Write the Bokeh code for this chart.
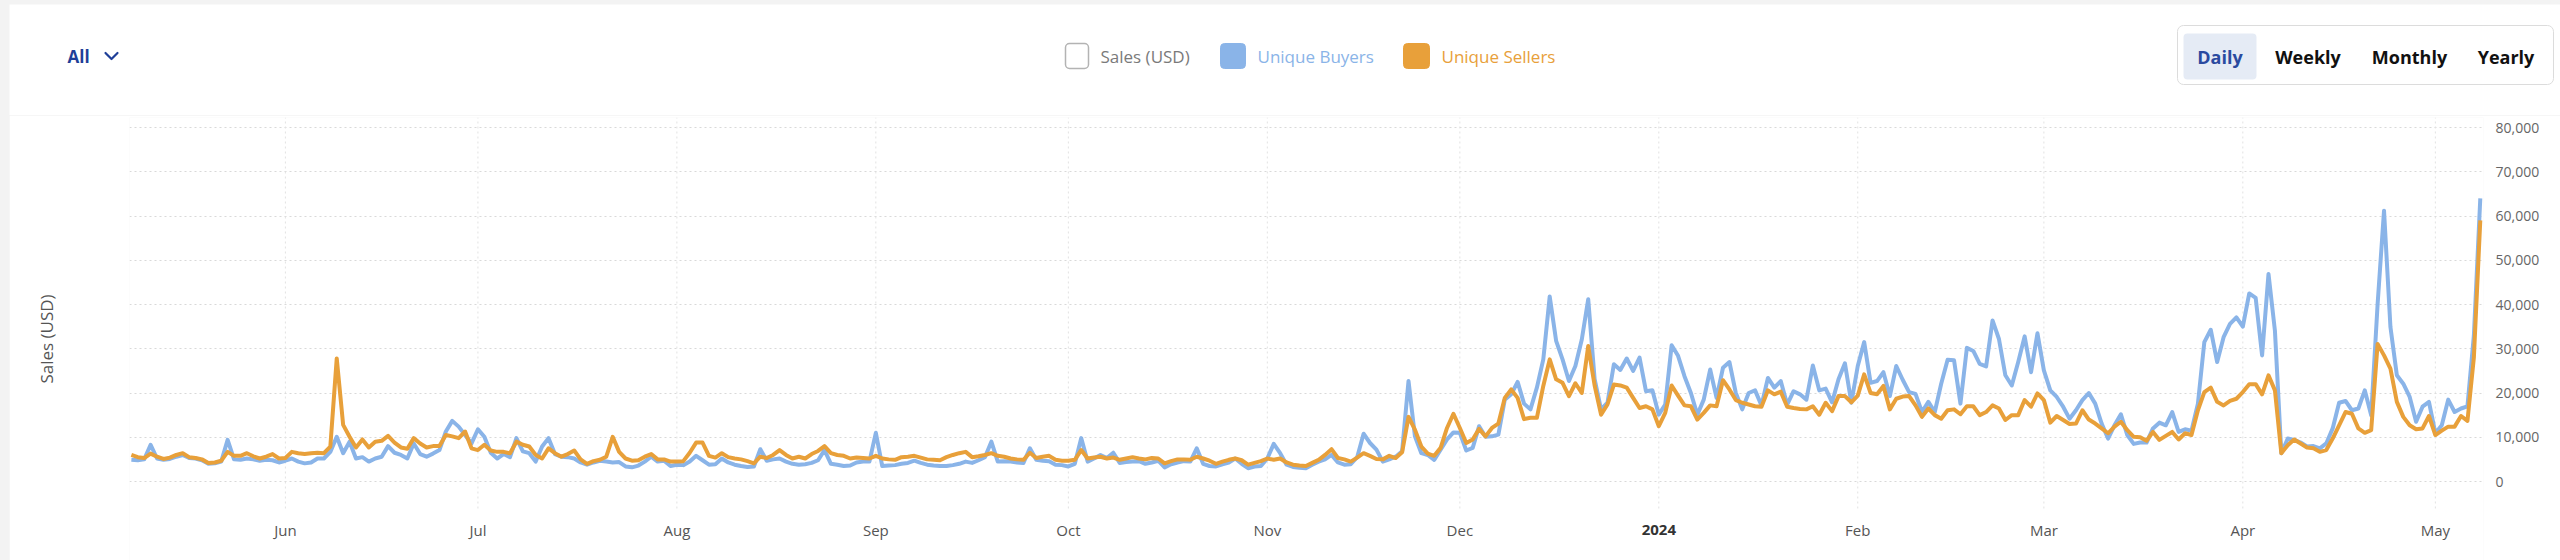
import pandas as pd
from bokeh.plotting import figure
from bokeh.models import (Range1d, LinearAxis, FixedTicker, NumeralTickFormatter,
                          Grid, ColumnDataSource)
from bokeh.layouts import column
from bokeh.embed import file_html
from bokeh.resources import INLINE
from bokeh.core.properties import value

# ---------------- data (daily, starting 2023-05-08) ----------------
START = "2023-05-08"

buyers_may23 = [4900, 4800, 5000, 8300, 5200, 4900, 5100, 5600, 6000, 5300, 5200, 4800,
                4000, 4100, 4500, 9400, 5000, 4900, 5200, 5000, 4700, 4900, 4800, 4300]
buyers_jun23 = [4700, 5200, 4500, 4100, 4300, 5200, 5200, 6700, 10100, 6400, 9000, 5200,
                5500, 4500, 5200, 5600, 8000, 6500, 6000, 5200, 8600, 6200, 5600, 6300,
                7100, 11300, 13700, 12400, 10500, 8600]
buyers_jul23 = [11800, 10100, 6500, 5200, 6200, 5500, 9800, 6800, 6400, 4500, 7900, 9800,
                6200, 5600, 5500, 5200, 4300, 3800, 4300, 4700, 4500, 4300, 4400, 3400,
                3200, 3600, 4500, 5600, 4500, 4700, 3500]
buyers_aug23 = [3800, 3700, 4500, 5800, 4800, 3800, 3900, 5200, 4300, 3800, 3500, 3300,
                3400, 7300, 4700, 5000, 5200, 4500, 4000, 3800, 3900, 4200, 4800, 7100,
                4000, 3800, 3500, 3600, 4300, 4500, 4500]
buyers_sep23 = [11000, 3500, 3600, 3700, 4000, 4200, 4700, 4200, 3800, 3600, 3500, 3500,
                3700, 4000, 4500, 4200, 4800, 5500, 9000, 4500, 4600, 4500, 4300, 4200,
                7500, 4900, 4700, 4600, 3800, 3700]
buyers_oct23 = [3400, 4000, 9800, 4500, 5200, 6000, 5300, 6500, 4200, 4400, 4500, 4600,
                4000, 4300, 4700, 3200, 3900, 4300, 4600, 4500, 7500, 4000, 3500, 3400,
                3900, 4300, 5200, 4000, 3000, 3400, 3500]
buyers_nov23 = [5200, 8500, 6400, 3800, 3300, 3100, 3000, 3800, 4500, 5000, 6000, 4300,
                3800, 3900, 5500, 10800, 8700, 7200, 4500, 5000, 5600, 6800, 22700, 10200,
                6400, 6000, 4900, 7200, 9500, 11100]
buyers_dec23 = [11000, 7000, 7600, 12500, 10100, 10200, 10600, 18500, 19700, 22500, 17600,
                16300, 21200, 27600, 41800, 31800, 27600, 22700, 26100, 32100, 41200, 23100,
                16300, 17800, 26500, 25200, 27800, 25000, 28000, 20400, 20600]
buyers_jan24 = [15100, 17400, 30800, 28400, 23800, 20000, 15100, 18500, 25300, 18900, 25700,
                27000, 20000, 16300, 20000, 20600, 17200, 23400, 21200, 22700, 17400, 20400,
                19700, 18500, 26200, 20600, 21000, 17900, 23100, 26700, 17800]
buyers_feb24 = [26100, 31500, 22300, 22700, 24700, 19300, 26100, 23000, 20200, 19800, 15700,
                18000, 15700, 22100, 27500, 27400, 17600, 30200, 29500, 26600, 26000, 36400,
                32200, 24000, 21700, 27000, 32800, 24700, 33500]
buyers_mar24 = [25100, 20600, 19100, 16900, 14200, 16100, 18400, 20000, 17600, 13100, 9700,
                12700, 15200, 10500, 8500, 8800, 8800, 12000, 13300, 12700, 15700, 11200,
                11800, 11500, 17600, 31500, 34300, 27000, 32600, 35600, 37100]
buyers_apr24 = [35000, 42500, 41500, 28500, 46900, 34100, 6400, 9700, 9400, 8800, 7900, 8000,
                7500, 8600, 12000, 17800, 18200, 16100, 16500, 20600, 15000, 40100, 61200,
                34900, 24000, 22100, 19100, 13500, 16900, 18000]
buyers_may24 = [10900, 12700, 18500, 15700, 16500, 17000, 33000, 64000]

sellers_may23 = [6000, 5500, 5300, 6300, 5600, 5100, 5400, 6000, 6400, 5500, 5300, 5000,
                 4200, 4300, 4700, 6700, 5800, 5800, 6400, 5700, 5200, 5600, 6200, 5200]
sellers_jun23 = [5300, 6700, 6400, 6200, 6400, 6500, 6400, 7900, 27800, 12800, 10100, 7700,
                 9500, 7700, 9000, 9200, 10300, 8800, 7700, 7400, 9800, 8600, 7700, 8000,
                 8000, 10500, 10200, 9800, 11300, 7500]
sellers_jul23 = [7100, 8300, 7000, 6700, 6700, 6400, 9000, 8300, 7900, 6000, 5200, 7500,
                 6400, 5600, 6200, 7000, 5000, 4000, 4600, 4900, 5600, 10100, 6700, 5200,
                 4700, 4800, 5600, 6200, 5000, 5000, 4500]
sellers_aug23 = [4500, 4600, 6500, 8800, 8800, 5800, 5400, 6400, 5500, 5200, 5000, 4600,
                 4100, 5600, 5300, 6000, 7100, 6000, 5200, 5600, 5200, 6200, 6900, 8000,
                 6400, 6000, 5800, 5200, 5400, 5300, 5200]
sellers_sep23 = [5800, 5200, 5000, 4900, 5500, 5600, 5800, 5400, 5000, 4900, 4800, 5500,
                 6000, 6400, 6700, 5500, 5700, 6000, 6400, 5800, 5600, 5200, 5000, 4900,
                 6500, 5300, 5600, 5800, 4900, 4700]
sellers_oct23 = [4700, 4900, 7100, 5200, 5400, 5600, 5200, 5400, 4900, 5200, 5500, 5200,
                 5000, 5300, 5200, 4100, 4600, 5000, 5000, 4900, 5600, 5200, 4700, 4000,
                 4500, 4900, 5200, 4800, 3800, 4200, 4600]
sellers_nov23 = [5200, 4900, 5200, 4300, 3800, 3600, 3500, 4200, 4900, 6000, 7300, 5300,
                 5000, 4500, 5400, 6400, 5800, 5100, 5000, 5800, 5300, 6600, 14600, 11700,
                 7900, 6300, 5800, 7600, 12100, 15300]
sellers_dec23 = [12100, 8700, 9500, 11900, 10200, 12100, 13100, 18900, 20800, 18900, 14100,
                 14400, 14400, 21600, 27600, 23100, 22300, 19300, 22200, 20000, 30600, 21700,
                 15100, 17400, 21900, 21700, 21200, 18900, 16600, 17000, 16300]
sellers_jan24 = [12500, 15500, 21700, 19400, 17200, 17000, 14000, 15500, 17200, 17000, 22900,
                 20800, 18400, 17800, 17400, 17000, 16900, 20600, 19700, 20300, 16900, 16600,
                 16400, 16300, 17000, 15100, 17800, 15900, 19300, 19300, 17900]
sellers_feb24 = [19400, 24200, 20000, 19700, 21600, 16300, 18700, 19200, 19300, 17200, 14600,
                 16500, 15000, 14200, 16100, 16300, 15200, 17000, 17000, 15000, 15700, 17200,
                 16500, 13900, 15000, 15000, 18400, 16900, 19900]
sellers_mar24 = [18400, 13300, 14800, 13900, 13000, 13100, 16100, 14000, 13100, 12000, 10900,
                 12400, 13500, 11600, 10100, 10000, 9200, 11200, 9400, 10300, 11200, 9500,
                 10900, 10500, 16100, 20200, 21200, 18000, 17200, 18200, 18700]
sellers_apr24 = [20200, 22000, 22000, 19700, 24000, 20600, 6400, 8200, 9500, 8600, 7700, 7500,
                 6700, 7100, 9700, 12700, 15700, 15300, 12000, 11000, 11600, 31100, 28500,
                 25500, 18000, 14600, 12700, 11800, 12000, 14800]
sellers_may24 = [10500, 11500, 12400, 12400, 14800, 13700, 28000, 59000]

buyers = (buyers_may23 + buyers_jun23 + buyers_jul23 + buyers_aug23 + buyers_sep23 +
          buyers_oct23 + buyers_nov23 + buyers_dec23 + buyers_jan24 + buyers_feb24 +
          buyers_mar24 + buyers_apr24 + buyers_may24)
sellers = (sellers_may23 + sellers_jun23 + sellers_jul23 + sellers_aug23 + sellers_sep23 +
           sellers_oct23 + sellers_nov23 + sellers_dec23 + sellers_jan24 + sellers_feb24 +
           sellers_mar24 + sellers_apr24 + sellers_may24)

month_ticks = ["2023-06-01", "2023-07-01", "2023-08-01", "2023-09-01", "2023-10-01",
               "2023-11-01", "2023-12-01", "2024-01-01", "2024-02-01", "2024-03-01",
               "2024-04-01", "2024-05-01"]
month_labels = ["Jun", "Jul", "Aug", "Sep", "Oct", "Nov", "Dec", "2024", "Feb", "Mar",
                "Apr", "May"]
y_ticks = [0, 10000, 20000, 30000, 40000, 50000, 60000, 70000, 80000]

series_names = ["Sales (USD)", "Unique Buyers", "Unique Sellers"]
periods = ["Daily", "Weekly", "Monthly", "Yearly"]

# ---------------- styling ----------------
FONT_NAME = "Open Sans"
FONT = value(FONT_NAME)
BLUE = "#8ab4e8"
ORANGE = "#e8a03a"
Y_BOTTOM, Y_TOP = -17853, 82260
GRID_LOW = -6100
LABEL_Y = -10850

dates = pd.date_range(START, periods=len(buyers), freq="D")
mt = pd.to_datetime(month_ticks)
src = ColumnDataSource(dict(date=dates, buyers=buyers, sellers=sellers))

x_start = pd.Timestamp(START) - pd.Timedelta(hours=7)
x_end = pd.Timestamp(START) + pd.Timedelta(hours=int(366.5 * 24))

# ---------------- chart ----------------
p = figure(width=2551, height=445, x_axis_type="datetime",
           x_range=Range1d(x_start, x_end), y_range=Range1d(Y_BOTTOM, Y_TOP),
           x_axis_location=None, y_axis_location=None,
           output_backend="svg", toolbar_location=None,
           min_border_left=120, min_border_right=77, min_border_top=2, min_border_bottom=0,
           outline_line_color=None, background_fill_color="white",
           border_fill_color="white", margin=(0, 0, 0, 9), frame_align=False)
p.grid.visible = False

hgrid = Grid(dimension=1, ticker=FixedTicker(ticks=y_ticks), grid_line_color="#d9d9d9",
             grid_line_dash="2 3", grid_line_width=1)
p.add_layout(hgrid)

p.segment(x0=mt, y0=[GRID_LOW] * len(mt), x1=mt, y1=[Y_TOP] * len(mt),
          line_color="#e2e2e2", line_dash="2 3", line_width=1)

ax_r = LinearAxis(ticker=FixedTicker(ticks=y_ticks), formatter=NumeralTickFormatter(format="0,0"),
                  axis_line_color=None, major_tick_line_color=None, minor_tick_line_color=None,
                  major_tick_out=0, major_tick_in=0, major_label_standoff=12,
                  major_label_text_font=FONT_NAME, major_label_text_font_size="14px",
                  major_label_text_color="#666666")
p.add_layout(ax_r, "right")

ax_l = LinearAxis(ticker=FixedTicker(ticks=[]), axis_label=series_names[0],
                  axis_label_standoff=72, axis_label_text_font=FONT_NAME,
                  axis_label_text_font_style="normal", axis_label_text_font_size="17px",
                  axis_label_text_color="#555555", axis_line_color=None,
                  major_tick_line_color=None, minor_tick_line_color=None,
                  major_tick_out=0, major_tick_in=0, major_label_standoff=0)
p.add_layout(ax_l, "left")

p.line("date", "buyers", source=src, line_color=BLUE, line_width=4, line_join="round")
p.line("date", "sellers", source=src, line_color=ORANGE, line_width=4, line_join="round")

normal_idx = [i for i, l in enumerate(month_labels) if l != "2024"]
bold_idx = [i for i, l in enumerate(month_labels) if l == "2024"]
p.text(x=[mt[i] for i in normal_idx], y=[LABEL_Y] * len(normal_idx),
       text=[month_labels[i] for i in normal_idx], text_align="center",
       text_baseline="middle", text_font=FONT, text_font_size="15px", text_color="#555555")
p.text(x=[mt[i] for i in bold_idx], y=[LABEL_Y] * len(bold_idx),
       text=[month_labels[i] for i in bold_idx], text_align="center",
       text_baseline="middle", text_font=FONT, text_font_size="15px",
       text_font_style="bold", text_color="#333333")

# ---------------- header (controls) ----------------
h = figure(width=2551, height=111, x_range=Range1d(9, 2560), y_range=Range1d(115, 4),
           x_axis_location=None, y_axis_location=None, toolbar_location=None,
           output_backend="svg", min_border=0, outline_line_color=None,
           background_fill_color="white", border_fill_color="white", margin=(4, 0, 0, 9),
           frame_align=False)
h.grid.visible = False

DARK_BLUE = "#1f3f98"
h.text(x=[67], y=[56], text=["All"], text_font=FONT, text_font_size="17px",
       text_font_style="bold", text_color=DARK_BLUE, text_baseline="middle")
h.line(x=[105, 111, 117], y=[52.5, 58.5, 52.5], line_color=DARK_BLUE, line_width=2.2,
       line_join="round", line_cap="round")

# legend
h.quad(left=[1065], right=[1088], top=[43], bottom=[68], fill_color="white",
       line_color="#b3b3b3", line_width=1.5, border_radius=4)
h.quad(left=[1220, 1403], right=[1245, 1429], top=[43, 43], bottom=[68, 68],
       fill_color=[BLUE, ORANGE], line_color=[BLUE, ORANGE], line_width=1, border_radius=4)
h.text(x=[1100, 1257, 1441], y=[56, 56, 56], text=series_names,
       text_color=["#7a7a7a", BLUE, ORANGE], text_font=FONT, text_font_size="17px",
       text_baseline="middle")

# period buttons
h.quad(left=[2177], right=[2553], top=[25], bottom=[84], fill_color="white",
       line_color="#dcdcdc", line_width=1, border_radius=6)
h.quad(left=[2183], right=[2256], top=[33], bottom=[79], fill_color="#e5ebf5",
       line_color=None, border_radius=4)
h.text(x=[2219.5, 2307.5, 2409, 2505.5], y=[56, 56, 56, 56], text=periods,
       text_color=["#2a4a9f", "#111111", "#111111", "#111111"], text_font=FONT,
       text_font_size="18px", text_font_style="bold", text_align="center",
       text_baseline="middle")

layout = column(h, p, spacing=0, styles={"background-color": "#f3f3f3"})

open("out.html", "w").write(file_html(layout, INLINE))
